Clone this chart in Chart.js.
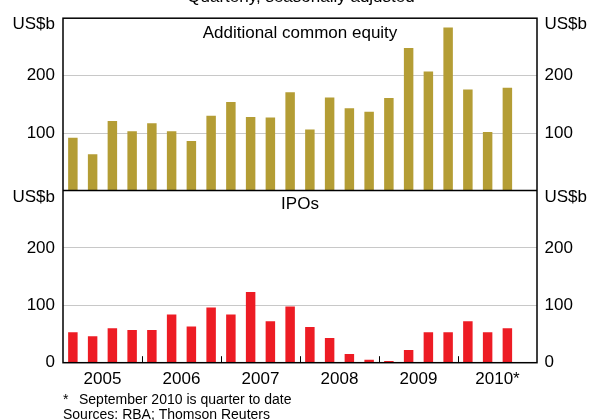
<!DOCTYPE html>
<html><head><meta charset="utf-8">
<script src="https://cdn.jsdelivr.net/npm/chart.js@4.4.0/dist/chart.umd.min.js"></script>
<style>html,body{margin:0;padding:0;background:#fff;} #wrap{position:relative;width:595px;height:420px;}</style>
</head><body><div id="wrap"><canvas id="c" width="595" height="420"></canvas></div>
<script>
const quarters = ['2005 Q1','2005 Q2','2005 Q3','2005 Q4','2006 Q1','2006 Q2','2006 Q3','2006 Q4',
  '2007 Q1','2007 Q2','2007 Q3','2007 Q4','2008 Q1','2008 Q2','2008 Q3','2008 Q4',
  '2009 Q1','2009 Q2','2009 Q3','2009 Q4','2010 Q1','2010 Q2','2010 Q3','2010 Q4'];
const yearLabels = ['2005','2006','2007','2008','2009','2010*'];
const equity = [92, 63, 121, 103, 117, 103, 86, 130, 154, 128, 127, 171, 106, 162, 143, 137, 161, 248, 207, 284, 176, 102, 179, null];
const ipos = [53, 46, 60, 57, 57, 84, 63, 96, 84, 123, 72, 98, 62, 43, 15, 5, 3, 22, 53, 53, 72, 53, 60, null];
const panelTitles = ['Additional common equity', 'IPOs'];
const unitLabel = 'US$b';
const subtitle = 'Quarterly, seasonally adjusted';
const footStar = '*';
const footNote = 'September 2010 is quarter to date';
const sources = 'Sources: RBA; Thomson Reuters';
const topTicks = [100, 200];
const bottomTicks = [0, 100, 200];

const FONT = '"Liberation Sans", Arial, sans-serif';
Chart.defaults.font.family = FONT;
Chart.defaults.font.size = 17;
Chart.defaults.color = '#000';

const GOLD = '#B49D35';
const RED = '#ED1C24';

function gridColor(ctx) {
  const v = ctx.tick ? ctx.tick.value : null;
  return (v === 100 || v === 200) ? '#c8c8c8' : 'rgba(0,0,0,0)';
}
function yAxis(pos, stack, shown, withGrid) {
  return {
    position: pos, stack: stack, stackWeight: 1, min: 0, max: 300,
    border: { display: false },
    grid: { display: withGrid, drawTicks: false, color: gridColor, lineWidth: 1 },
    ticks: {
      stepSize: 100, padding: pos === 'left' ? 8 : 7.5,
      callback: v => shown.includes(v) ? String(v) : ''
    },
    afterFit: s => { s.width = pos === 'left' ? 63 : 58; }
  };
}

const decor = {
  id: 'decor',
  afterDraw(chart) {
    const c = chart.ctx, ca = chart.chartArea, s = chart.scales;
    c.save();
    // frame
    c.strokeStyle = '#000'; c.lineWidth = 1.5;
    c.strokeRect(ca.left, ca.top, ca.right - ca.left, ca.bottom - ca.top);
    const mid = s.yTL.bottom;
    c.beginPath(); c.moveTo(ca.left, mid); c.lineTo(ca.right, mid); c.stroke();
    // year ticks
    c.lineWidth = 1;
    for (let k = 4; k < quarters.length; k += 4) {
      const x = Math.round((s.x.getPixelForValue(k - 1) + s.x.getPixelForValue(k)) / 2) + 0.5;
      c.beginPath(); c.moveTo(x, ca.bottom - 6.5); c.lineTo(x, ca.bottom); c.stroke();
    }
    // texts
    c.fillStyle = '#000';
    c.font = '17px ' + FONT;
    c.textBaseline = 'alphabetic';
    c.textAlign = 'right';
    c.fillText(unitLabel, s.yTL.right - 8, s.yTL.top + 10.8);
    c.fillText(unitLabel, s.yBL.right - 8, s.yBL.top + 11.5);
    c.textAlign = 'left';
    c.fillText(unitLabel, s.yTR.left + 7.5, s.yTR.top + 10.8);
    c.fillText(unitLabel, s.yBR.left + 7.5, s.yBR.top + 11.5);
    c.textAlign = 'center';
    const cx = (ca.left + ca.right) / 2;
    c.fillText(panelTitles[0], cx, s.yTL.top + 20);
    c.fillText(panelTitles[1], cx, s.yBL.top + 19);
    c.fillText(subtitle, cx + 1, 1.5);
    c.font = '14px ' + FONT;
    c.textAlign = 'left';
    c.fillText(footStar, ca.left, 404);
    c.fillText(footNote, ca.left + 16, 404);
    c.fillText(sources, ca.left, 418.5);
    c.restore();
  }
};

new Chart(document.getElementById('c'), {
  type: 'bar',
  data: {
    labels: quarters,
    datasets: [
      { label: panelTitles[0], data: equity, yAxisID: 'yTL', backgroundColor: GOLD,
        grouped: false, barPercentage: 0.48, categoryPercentage: 1 },
      { label: panelTitles[1], data: ipos, yAxisID: 'yBL', backgroundColor: RED,
        grouped: false, barPercentage: 0.48, categoryPercentage: 1 }
    ]
  },
  options: {
    responsive: false, animation: false, devicePixelRatio: 1,
    layout: { padding: { top: 13.3, left: 0, right: 0, bottom: 0 } },
    plugins: { legend: { display: false }, tooltip: { enabled: false }, title: { display: false } },
    scales: {
      x: {
        type: 'category', offset: true,
        grid: { display: false, drawTicks: false, tickLength: 0 }, border: { display: false },
        ticks: {
          autoSkip: false, maxRotation: 0, minRotation: 0, padding: 6.5, labelOffset: 9.875,
          callback: (v, i) => (i % 4 === 1) ? yearLabels[Math.floor(i / 4)] : ''
        },
        afterFit: s => { s.height = 57.3; }
      },
      yBL: yAxis('left', 'L', bottomTicks, true),
      yTL: yAxis('left', 'L', topTicks, true),
      yTR: yAxis('right', 'R', topTicks, false),
      yBR: yAxis('right', 'R', bottomTicks, false)
    }
  },
  plugins: [decor]
});
</script></body></html>
